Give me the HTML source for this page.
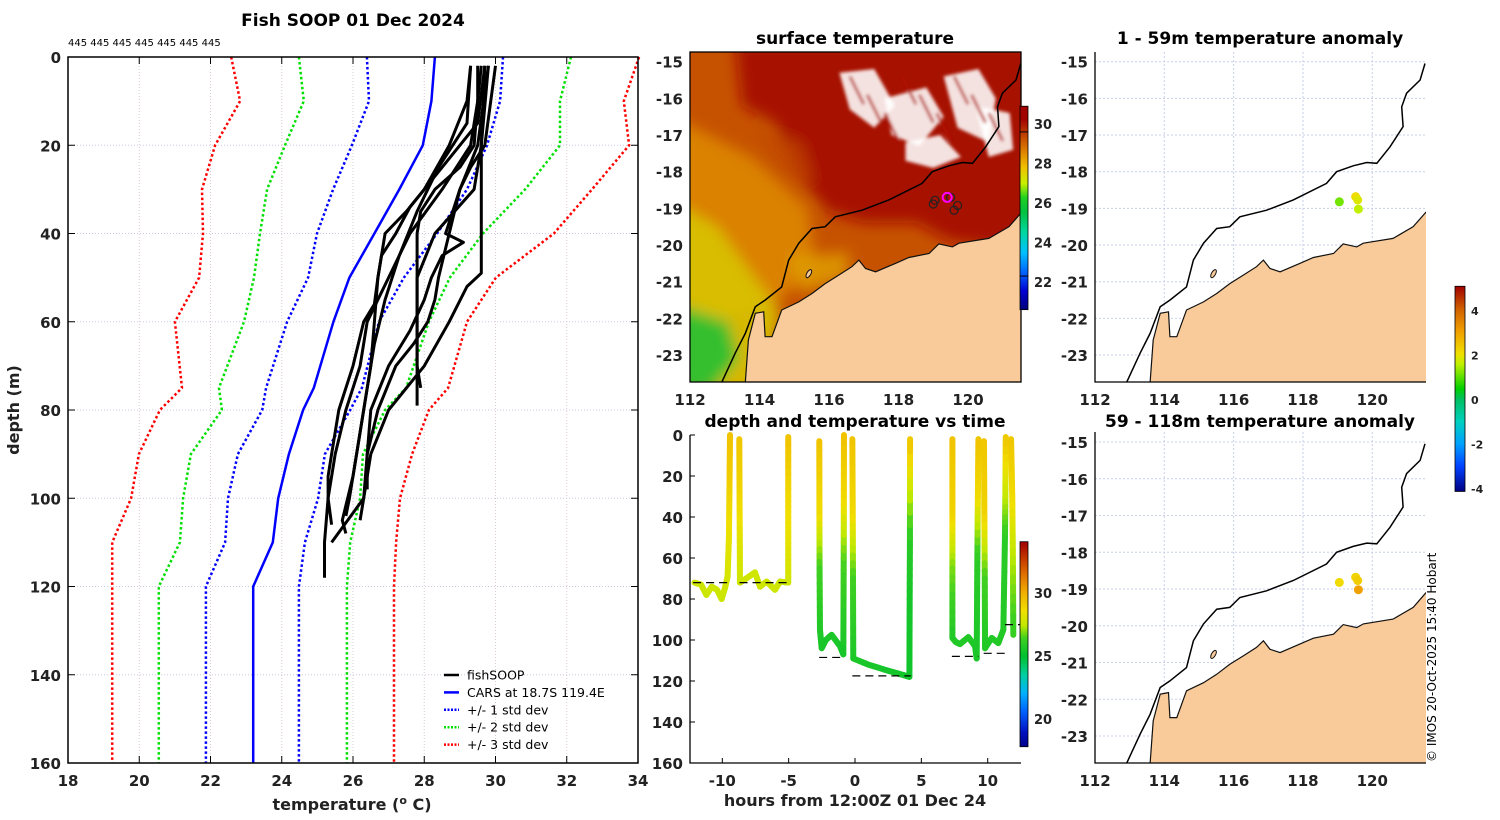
<!DOCTYPE html>
<html><head><meta charset="utf-8"><style>
html,body{margin:0;padding:0;background:#fff;}
svg{display:block;font-family:"DejaVu Sans","Liberation Sans",sans-serif;}
</style></head><body>
<svg id="fig" width="1500" height="820" viewBox="0 0 1500 820">
<defs>
<clipPath id="clipA"><rect x="690" y="52" width="331" height="330"/></clipPath>
<clipPath id="clipB"><rect x="1095" y="52" width="331" height="330"/></clipPath>
<clipPath id="clipC"><rect x="1095" y="432" width="331" height="331"/></clipPath>
<filter id="blur8" x="-20%" y="-20%" width="140%" height="140%"><feGaussianBlur stdDeviation="7"/></filter>
<filter id="blur3"><feGaussianBlur stdDeviation="1.5"/></filter>
<linearGradient id="sstcb" x1="0" y1="1" x2="0" y2="0">
<stop offset="0" stop-color="#00007a"/><stop offset="0.09" stop-color="#0000d0"/><stop offset="0.18" stop-color="#0060ff"/><stop offset="0.28" stop-color="#00c0ff"/><stop offset="0.38" stop-color="#00d8a0"/><stop offset="0.48" stop-color="#00c040"/><stop offset="0.55" stop-color="#20d020"/><stop offset="0.62" stop-color="#c8f000"/><stop offset="0.7" stop-color="#f0c000"/><stop offset="0.77" stop-color="#e08800"/><stop offset="0.86" stop-color="#c04000"/><stop offset="0.94" stop-color="#a00000"/><stop offset="1" stop-color="#a00000"/>
</linearGradient>
<linearGradient id="dtcb" x1="0" y1="1" x2="0" y2="0">
<stop offset="0" stop-color="#00008a"/><stop offset="0.07" stop-color="#0010c0"/><stop offset="0.17" stop-color="#0060ff"/><stop offset="0.26" stop-color="#00b0ff"/><stop offset="0.35" stop-color="#00d0a0"/><stop offset="0.44" stop-color="#00c030"/><stop offset="0.53" stop-color="#40d020"/><stop offset="0.59" stop-color="#c0e800"/><stop offset="0.66" stop-color="#f0e000"/><stop offset="0.75" stop-color="#f0b000"/><stop offset="0.84" stop-color="#e07000"/><stop offset="0.93" stop-color="#c03000"/><stop offset="1" stop-color="#a00000"/>
</linearGradient>
<linearGradient id="anomcb" x1="0" y1="1" x2="0" y2="0">
<stop offset="0" stop-color="#000080"/><stop offset="0.12" stop-color="#0040ff"/><stop offset="0.23" stop-color="#00a0ff"/><stop offset="0.34" stop-color="#00d0c0"/><stop offset="0.45" stop-color="#00c060"/><stop offset="0.5" stop-color="#00d000"/><stop offset="0.62" stop-color="#c0f000"/><stop offset="0.67" stop-color="#f0e000"/><stop offset="0.78" stop-color="#f0a000"/><stop offset="0.89" stop-color="#d06000"/><stop offset="1" stop-color="#a00000"/>
</linearGradient>
</defs>
</svg>
<script>
// ---------- data: left profile panel ----------
const carsDepths = [0,10,20,30,40,50,60,75,80,90,100,110,120,160];
const carsMean  = [28.3,28.2,27.96,27.3,26.6,25.9,25.45,24.9,24.6,24.2,23.9,23.75,23.2,23.2];
const minus1Std = [26.39,26.45,25.97,25.44,24.99,24.74,24.15,23.56,23.45,22.77,22.49,22.41,21.87,21.87];
const plus1Std  = [30.21,30.13,29.76,29.2,28.36,27.43,26.73,26.25,25.92,25.21,25.02,24.65,24.48,24.48];
const minus2Std = [24.48,24.62,24.09,23.59,23.39,23.22,22.94,22.24,22.32,21.45,21.23,21.14,20.55,20.55];
const plus2Std  = [32.12,31.81,31.81,30.83,29.65,28.72,28.13,27.49,26.9,26.28,26.2,25.92,25.83,25.83];
const minus3Std = [22.58,22.83,22.13,21.76,21.79,21.68,21.0,21.2,20.58,19.99,19.77,19.24,19.24,19.24];
const plus3Std  = [34.03,33.6,33.75,32.71,31.64,30.01,29.2,28.67,28.13,27.66,27.32,27.21,27.15,27.15];
const minus3Depths = [0,10,20,30,40,50,60,75,80,90,100,110,120,160];
const fishDepths = [
 [2,10,20,30,40,50,60,70,80,90,100,110,118],
 [2,15,25,35,45,55,65,75,85,95,105,108],
 [2,10,20,25,30,35,40,50,60,70,79],
 [2,20,30,40,50,60,70,75],
 [2,20,40,49,52,60,70,80,90,100,105],
 [2,20,30,40,42,45,50,55,62,70,80,90,100,110],
 [2,10,20,30,35,40,50,56,60,70,80,90,95,100,106],
 [2,15,22,28,34,40,45,50,60,70,80,90,100,104],
 [2,20,25,30,40,50,55,60,65,70,80,90,98]
];
const fishTemps = [
 [29.6,29.5,29.3,28.5,27.6,27.0,26.4,26.2,25.8,25.5,25.3,25.2,25.2],
 [29.3,29.2,28.4,27.8,27.3,26.9,26.6,26.4,26.2,26.0,25.7,25.8],
 [29.5,29.5,29.4,29.0,28.3,27.9,27.8,27.8,27.8,27.8,27.8],
 [29.8,29.6,29.4,28.3,27.8,27.8,27.8,27.9],
 [29.7,29.6,29.6,29.6,29.2,28.7,28.0,27.0,26.5,26.3,26.2],
 [29.8,29.5,29.0,28.6,29.1,28.5,28.2,28.0,27.6,27.0,26.5,26.4,26.3,25.4],
 [29.3,29.2,28.7,28.0,27.5,26.9,26.7,26.6,26.3,26.0,25.6,25.4,25.3,25.3,25.4],
 [29.7,29.5,28.8,28.2,27.6,27.2,26.8,26.7,26.6,26.5,26.3,26.1,25.9,25.8],
 [30.0,29.7,29.3,29.0,28.7,28.4,28.3,28.1,27.7,27.2,26.7,26.4,26.4]
];
const tempTicks = [18,20,22,24,26,28,30,32,34];
const depthTicks = [0,20,40,60,80,100,120,140,160];

// ---------- data: depth vs time ----------
const castHours = [
 [-12.1,-11.6,-11.2,-10.8,-10.4,-10.05,-9.8,-9.6,-9.5,-9.45,-9.42],
 [-8.72,-8.7,-8.68,-8.67,-8.2,-7.54,-7.16,-6.66,-6.03,-5.65,-5.03,-5.03,-5.03,-5.03],
 [-2.69,-2.68,-2.67,-2.64,-2.51,-2.2,-1.76,-1.13,-0.88,-0.85,-0.84,-0.83],
 [-0.2,-0.17,-0.15,-0.13,1,2.5,3.6,4.1,4.12,4.14,4.15],
 [7.34,7.34,7.34,7.34,7.6,7.91,8.54,9.05,9.17,9.22,9.26,9.3],
 [9.72,9.75,9.78,9.8,10.3,10.8,11.18,11.3,11.33,11.36],
 [11.76,11.85,11.9,11.93]
];
const castDepths = [
 [72,73,78,74,75.5,80,74.7,69,50,20,0],
 [2,30,55,72,70,67,74,71.5,75.5,71.5,72,50,30,1],
 [3,40,65,95,104,100,97.5,103,107,60,30,0],
 [2,40,70,109,112,115,117,118,80,50,2],
 [2,40,65,99,101,102,98.6,103,109,60,30,2],
 [3,40,70,104,99,101.5,95,50,30,1],
 [2,30,60,97.5]
];
const castTemps = [
 [27.8,27.8,27.7,27.8,27.8,27.7,27.8,27.9,28.3,29.1,29.4],
 [29.3,28.8,28.1,27.8,27.8,27.8,27.8,27.8,27.8,27.8,27.8,28.3,28.7,29.4],
 [29.4,28.6,26.5,25.8,25.6,25.6,25.7,25.6,25.5,26.6,28.7,29.4],
 [29.4,28.7,26.5,25.7,25.6,25.5,25.5,25.4,25.5,26.0,29.4],
 [29.4,28.9,27.0,25.8,25.8,25.8,25.8,25.7,25.6,26.0,28.6,29.4],
 [29.3,28.9,26.5,25.8,25.8,25.8,25.8,26.0,27.5,29.3],
 [29.3,28.7,27.5,26.2]
];
const bottomStart = [-12.2,-8.7,-2.7,-0.2,7.3,9.7,11.3];
const bottomEnd   = [-9.5,-5.0,-0.8,4.2,9.3,11.4,12.6];
const bottomDepth = [72,72,108.5,117.5,108,106.5,92.5];
const hourTicks = [-10,-5,0,5,10];

// ---------- data: maps ----------
const coastLon = [113.59,113.68,113.88,114.12,114.16,114.36,114.64,115.13,115.51,115.89,116.28,116.66,116.86,117.05,117.34,117.91,118.3,118.88,119.16,119.55,119.74,120.6,121.18,121.54];
const coastLat = [-23.75,-22.59,-21.86,-21.82,-22.5,-22.5,-21.77,-21.55,-21.32,-21.05,-20.82,-20.59,-20.41,-20.64,-20.73,-20.5,-20.34,-20.23,-19.97,-20.05,-19.95,-19.82,-19.5,-19.11];
const shelfLon = [112.91,113.3,113.59,113.88,114.16,114.64,114.84,115.13,115.51,115.89,116.18,116.95,117.72,118.68,118.97,119.45,119.84,120.13,120.51,120.89,120.85,120.99,121.38,121.52];
const shelfLat = [-23.75,-22.95,-22.41,-21.68,-21.5,-21.14,-20.41,-19.95,-19.55,-19.5,-19.23,-19.05,-18.77,-18.32,-18.0,-17.84,-17.75,-17.77,-17.32,-16.77,-16.23,-15.86,-15.5,-15.05];
const profLon = [119.05,119.5,119.6,119.7,119.0];
const profLat = [-18.78,-18.7,-19.05,-18.92,-18.88];
const anomLon = [119.05,119.52,119.58,119.6];
const anomLat = [-18.82,-18.68,-18.77,-19.02];
const anomShallow = [1.1,2.1,1.8,1.5];
const anomDeep = [2.1,2.2,2.3,3.0];
const lonTicks = [112,114,116,118,120];
const latTicks = [-15,-16,-17,-18,-19,-20,-21,-22,-23];
const sstTicks = [22,24,26,28,30];
const dtTicks = [20,25,30];
const anomTicks = [-4,-2,0,2,4];

// ---------- helpers ----------
const NS='http://www.w3.org/2000/svg';
const svg=document.getElementById('fig');
function mk(tag,attrs,parent){const e=document.createElementNS(NS,tag);for(const k in attrs)e.setAttribute(k,attrs[k]);(parent||svg).appendChild(e);return e;}
function txt(x,y,s,attrs,parent){const t=mk('text',Object.assign({x:x,y:y},attrs),parent);t.textContent=s;return t;}
const B={'font-weight':'bold','font-size':15,fill:'#222'};

// ---------- left panel ----------
const LX0=68,LX1=638,LY0=57,LY1=763;
const tx=t=>LX0+(t-18)/16*(LX1-LX0);
const dy=d=>LY0+d/160*(LY1-LY0);
const gL=mk('g',{});


tempTicks.forEach(t=>{
  const l=mk('line',{x1:tx(t),x2:tx(t),y1:LY0,y2:LY1,stroke:'#d8c8d8','stroke-dasharray':'1,2','stroke-width':1},gL);
  
  
  const tk=mk('line',{x1:tx(t),x2:tx(t),y1:LY1,y2:LY1-7,stroke:'#000'},gL);
  
  
  const tk2=mk('line',{x1:tx(t),x2:tx(t),y1:LY0,y2:LY0+7,stroke:'#000'},gL);
  
  
  const lb=txt(tx(t),786,String(t),Object.assign({'text-anchor':'middle'},B),gL);
  
  
});
depthTicks.forEach(d=>{
  const l=mk('line',{x1:LX0,x2:LX1,y1:dy(d),y2:dy(d),stroke:'#d0c8e0','stroke-dasharray':'1,2','stroke-width':1},gL);
  
  
  const tk=mk('line',{x1:LX0,x2:LX0+7,y1:dy(d),y2:dy(d),stroke:'#000'},gL);
  
  
  const tk2=mk('line',{x1:LX1,x2:LX1-7,y1:dy(d),y2:dy(d),stroke:'#000'},gL);
  
  
  const lb=txt(61,dy(d)+6,String(d),Object.assign({'text-anchor':'end'},B),gL);
  
  
});
function pline(temps,depths,color,dash,w,name){
  const pts=temps.map((t,i)=>tx(t).toFixed(1)+','+dy(depths[i]).toFixed(1)).join(' ');
  const a={points:pts,fill:'none',stroke:color,'stroke-width':w,'stroke-linejoin':'round'};
  if(dash)a['stroke-dasharray']=dash;
  const p=mk('polyline',a,gL);
  
  
}
pline(minus3Std,minus3Depths,'#ff0000','2.5,2.5',2.5,'minus-3-std-line');
pline(plus3Std,carsDepths,'#ff0000','2.5,2.5',2.5,'plus-3-std-line');
pline(minus2Std,carsDepths,'#00e000','2.5,2.5',2.5,'minus-2-std-line');
pline(plus2Std,carsDepths,'#00e000','2.5,2.5',2.5,'plus-2-std-line');
pline(minus1Std,carsDepths,'#0000ff','2.5,2.5',2.5,'minus-1-std-line');
pline(plus1Std,carsDepths,'#0000ff','2.5,2.5',2.5,'plus-1-std-line');
pline(carsMean,carsDepths,'#0000ff',null,2.5,'cars-mean-line');
fishTemps.forEach((t,i)=>pline(t,fishDepths[i],'#000',null,3,'fishsoop-profile'));
const box=mk('rect',{x:LX0,y:LY0,width:LX1-LX0,height:LY1-LY0,fill:'none',stroke:'#000','stroke-width':1.5},gL);


let t1=txt(353,26,'Fish SOOP 01 Dec 2024',{'text-anchor':'middle','font-weight':'bold','font-size':17,fill:'#000'});


let t2=txt(68,46,'445 445 445 445 445 445 445',{'font-size':10,fill:'#000'});


let t3=txt(352,810,'',{'text-anchor':'middle','font-weight':'bold','font-size':16,fill:'#222'});
const ts1=mk('tspan',{},t3);ts1.textContent='temperature (';
const ts2=mk('tspan',{dy:-6,'font-size':11},t3);ts2.textContent='o';
const ts3=mk('tspan',{dy:6},t3);ts3.textContent=' C)';


let t4=txt(0,0,'depth (m)',{'text-anchor':'middle','font-weight':'bold','font-size':16,fill:'#222',transform:'translate(19,410) rotate(-90)'});


// legend
const legNames=['fishSOOP','CARS at 18.7S 119.4E','+/- 1 std dev','+/- 2 std dev','+/- 3 std dev'];
const legColors=['#000','#0000ff','#0000ff','#00e000','#ff0000'];
const legDash=[null,null,'2,1.5','2,1.5','2,1.5'];
legNames.forEach((n,i)=>{
  const y=675+i*17.4;
  const a={x1:444,x2:459,y1:y,y2:y,stroke:legColors[i],'stroke-width':2.5};
  if(legDash[i])a['stroke-dasharray']=legDash[i];
  const l=mk('line',a);
  
  
  const t=txt(467,y+4.5,n,{'font-size':12.5,fill:'#000'});
  
  
});

// ---------- maps ----------
function makeMap(o){
  o.lx=lon=>o.left+(lon-112)*o.sx;
  o.ly=lat=>o.lat15+(-15-lat)*o.sy;
  return o;
}
const mapA=makeMap({left:690,right:1021,top:52,bottom:382,sx:34.75,sy:36.67,lat15:61.7,clip:'clipA'});
const mapB=makeMap({left:1095,right:1426,top:52,bottom:382,sx:34.66,sy:36.67,lat15:61.7,clip:'clipB'});
const mapC=makeMap({left:1095,right:1426,top:432,bottom:763,sx:34.66,sy:36.75,lat15:442,clip:'clipC'});
function poly(m,lons,lats){return lons.map((l,i)=>m.lx(l).toFixed(1)+','+m.ly(lats[i]).toFixed(1)).join(' ');}
function drawMapFrame(m,name){
  const g=mk('g',{});
  
  
  lonTicks.forEach(l=>{
    const gl=mk('line',{x1:m.lx(l),x2:m.lx(l),y1:m.top,y2:m.bottom,stroke:'#c8d0ea','stroke-dasharray':'2,2'},g);
    
    
    const lb=txt(m.lx(l),m.bottom+23,String(l),Object.assign({'text-anchor':'middle'},B),g);
    
    
  });
  latTicks.forEach(l=>{
    const gl=mk('line',{x1:m.left,x2:m.right,y1:m.ly(l),y2:m.ly(l),stroke:'#c8d0ea','stroke-dasharray':'2,2'},g);
    
    
    const lb=txt(m.left-7,m.ly(l)+6,String(l),Object.assign({'text-anchor':'end'},B),g);
    
    
  });
  return g;
}
function drawLand(m,g){
  const lons=coastLon.concat([121.7,121.7,113.5]);
  const lats=coastLat.concat([-19.0,-24,-24]);
  const land=mk('polygon',{points:poly(m,lons,lats),fill:'#f9cb9a',stroke:'#111','stroke-width':1.2},g);
  
  
  const isl=mk('ellipse',{cx:m.lx(115.42),cy:m.ly(-20.78),rx:2,ry:4.5,fill:'#f9cb9a',stroke:'#111','stroke-width':1,transform:'rotate(30 '+m.lx(115.42)+' '+m.ly(-20.78)+')'},g);
  
  
  const sh=mk('polyline',{points:poly(m,shelfLon,shelfLat),fill:'none',stroke:'#000','stroke-width':1.5},g);
  
  
}
function axesLines(m,g,full){
  if(full){
    const r=mk('rect',{x:m.left,y:m.top,width:m.right-m.left,height:m.bottom-m.top,fill:'none',stroke:'#000','stroke-width':1.3},g);
    
    
  } else {
    const a=mk('polyline',{points:m.left+','+m.top+' '+m.left+','+m.bottom+' '+m.right+','+m.bottom,fill:'none',stroke:'#000','stroke-width':1.3},g);
    
    
  }
}

// map A: SST
const gA=drawMapFrame(mapA,'sst-map');
const field=mk('g',{'clip-path':'url(#clipA)'},gA);


const bg=mk('rect',{x:690,y:52,width:331,height:330,fill:'#c65200'},field);


const blurG=mk('g',{filter:'url(#blur8)'},field);


function patch(lons,lats,color,op,name){
  const p=mk('polygon',{points:poly(mapA,lons,lats),fill:color,opacity:op},blurG);
  
  
}
patch([113.3,122,122,119.5,118.5,117,116,115,114.5,113.5],[-14.5,-14.5,-20.2,-19.9,-19.4,-19.4,-19.1,-18,-16.7,-16.2],'#a51000',0.95,'warm-pool');
patch([113.8,115.2,115.6,114.6],[-16.8,-17.2,-18.3,-18.0],'#c24a00',0.7,'orange-eddy');
patch([111.5,113.8,115.4,115.6,114.6,113,111.5],[-16.5,-17.6,-19,-20.5,-21.5,-22,-22],'#de8a00',0.85,'orange-band');
patch([111.5,112.8,113.8,114.6,114.2,113.6,111.5],[-18.8,-19.5,-20.8,-21.8,-23.8,-24,-24],'#d8c400',0.9,'yellow-band');
patch([114.8,116.6,116.5,115.2],[-20.3,-20.2,-20.9,-21.3],'#e0a000',0.8,'coastal-warm');
patch([111.5,113.1,113.4,112.6,111.5],[-21.6,-22.1,-23.1,-24,-24],'#2cc030',0.95,'green-cool');
const cloudG=mk('g',{filter:'url(#blur3)'},field);


const cloudLons=[[116.3,117.3,117.9,117.3,116.6],[117.6,118.8,119.3,118.6,117.8],[119.3,120.3,120.8,120.6,119.7],[118.2,119.2,119.8,119.0,118.2],[120.2,121.2,121.3,120.6]];
const cloudLats=[[-15.3,-15.2,-16.2,-16.8,-16.3],[-16.0,-15.7,-16.5,-17.3,-17.0],[-15.4,-15.2,-16.0,-17.2,-16.8],[-17.2,-17.0,-17.6,-17.9,-17.7],[-16.2,-16.4,-17.4,-17.6]];
cloudLons.forEach((cl,i)=>{
  const c=mk('polygon',{points:poly(mapA,cl,cloudLats[i]),fill:'#ffffff',opacity:0.88},cloudG);
  
  
});
for(let i=0;i<9;i++){
  const x=mapA.lx(116.6+i*0.5),y=mapA.ly(-15.4-(i%3)*0.5);
  const s=mk('line',{x1:x,y1:y,x2:x+14,y2:y+28,stroke:'#b01000','stroke-width':3,opacity:0.8},cloudG);
  
  
}
drawLand(mapA,mk('g',{'clip-path':'url(#clipA)'},gA));
profLon.forEach((l,i)=>{
  const c=mk('circle',{cx:mapA.lx(l),cy:mapA.ly(profLat[i]),r:4,fill:'none',stroke:'#222','stroke-width':1.2},gA);
  
  
});
const mag=mk('circle',{cx:mapA.lx(119.4),cy:mapA.ly(-18.7),r:4.5,fill:'none',stroke:'#ff00ff','stroke-width':2},gA);


axesLines(mapA,gA,true);
let tA=txt(855,44,'surface temperature',{'text-anchor':'middle','font-weight':'bold','font-size':17,fill:'#000'});


// SST colorbar
const sy=v=>124+(30-v)/2*39.5;
let cb=mk('rect',{x:1020,y:sy(30.9),width:8,height:sy(20.6)-sy(30.9),fill:'url(#sstcb)',stroke:'#000','stroke-width':0.8});


sstTicks.forEach(v=>{
  const lb=txt(1034,sy(v)+5,String(v),{'font-weight':'bold','font-size':13,fill:'#222'});
  
  
});
[29.6,22.3].forEach(v=>{
  const l=mk('line',{x1:1020,x2:1028,y1:sy(v),y2:sy(v),stroke:'#000'});
  
  
});

// maps B & C: anomalies
function interpColor(s,v){
  if(v<=s[0][0])return 'rgb('+s[0][1]+')';
  for(let i=1;i<s.length;i++){if(v<=s[i][0]){const f=(v-s[i-1][0])/(s[i][0]-s[i-1][0]);const c=s[i-1][1].map((a,k)=>Math.round(a+(s[i][1][k]-a)*f));return 'rgb('+c.join(',')+')';}}
  return 'rgb('+s[s.length-1][1]+')';
}
function anomColor(v){
  const s=[[-4.1,[0,0,128]],[-3,[0,64,255]],[-2,[0,160,255]],[-1,[0,208,192]],[0,[0,192,96]],[0.5,[0,208,0]],[1.5,[192,240,0]],[2,[240,224,0]],[3,[240,160,0]],[4,[208,96,0]],[5.1,[160,0,0]]];
  return interpColor(s,v);
}
[[mapB,anomShallow,'shallow-anomaly-map','1 - 59m temperature anomaly',44],[mapC,anomDeep,'deep-anomaly-map','59 - 118m temperature anomaly',427]].forEach(([m,vals,name,title,ty])=>{
  const g=drawMapFrame(m,name);
  drawLand(m,mk('g',{'clip-path':'url(#'+m.clip+')'},g));
  anomLon.forEach((l,i)=>{
    const c=mk('circle',{cx:m.lx(l),cy:m.ly(anomLat[i]),r:4.5,fill:anomColor(vals[i])},g);
    
    
  });
  axesLines(m,g,false);
  const t=txt(1260,ty,title,{'text-anchor':'middle','font-weight':'bold','font-size':17,fill:'#000'});
  
  
});
const ay=v=>400-v*22.3;
let acb=mk('rect',{x:1455,y:ay(5.1),width:10,height:ay(-4.1)-ay(5.1),fill:'url(#anomcb)',stroke:'#000','stroke-width':0.8});


anomTicks.forEach(v=>{
  const lb=txt(1471,ay(v)+4,String(v),{'font-weight':'bold','font-size':11,fill:'#222'});
  
  
});

// ---------- depth vs time ----------
const TX0=690,TX1=1021,TY0=435,TY1=763;
const hx=h=>855+h*13.27;
const hy=d=>TY0+d/160*(TY1-TY0);
const gT=mk('g',{});


const dtStops=[[17.8,[0,0,138]],[19,[0,16,192]],[20.5,[0,96,255]],[22,[0,176,255]],[23.5,[0,208,160]],[25,[0,192,48]],[26.5,[64,208,32]],[27.5,[192,232,0]],[28.5,[240,224,0]],[30,[240,176,0]],[31.5,[224,112,0]],[33,[192,48,0]],[34,[160,0,0]]];
castHours.forEach((hs,ci)=>{
  const ds=castDepths[ci],ts=castTemps[ci];
  for(let i=1;i<hs.length;i++){
    const n=8;
    for(let k=0;k<n;k++){
      const f0=k/n,f1=(k+1)/n,fm=(k+0.5)/n;
      const seg=mk('line',{x1:hx(hs[i-1]+(hs[i]-hs[i-1])*f0),y1:hy(ds[i-1]+(ds[i]-ds[i-1])*f0),x2:hx(hs[i-1]+(hs[i]-hs[i-1])*f1),y2:hy(ds[i-1]+(ds[i]-ds[i-1])*f1),stroke:interpColor(dtStops,ts[i-1]+(ts[i]-ts[i-1])*fm),'stroke-width':6,'stroke-linecap':'round'},gT);
      
      
    }
  }
});
bottomStart.forEach((s,i)=>{
  const l=mk('line',{x1:hx(s),x2:Math.min(hx(bottomEnd[i]),TX1),y1:hy(bottomDepth[i]),y2:hy(bottomDepth[i]),stroke:'#000','stroke-width':1.2,'stroke-dasharray':'8,5'},gT);
  
  
});
const ax=mk('polyline',{points:TX0+','+TY0+' '+TX0+','+TY1+' '+TX1+','+TY1,fill:'none',stroke:'#000','stroke-width':1.3},gT);


hourTicks.forEach(h=>{
  const tk=mk('line',{x1:hx(h),x2:hx(h),y1:TY1,y2:TY1-5,stroke:'#000'},gT);
  
  
  const lb=txt(hx(h),786,String(h),Object.assign({'text-anchor':'middle'},B),gT);
  
  
});
depthTicks.forEach(d=>{
  const tk=mk('line',{x1:TX0,x2:TX0+5,y1:hy(d),y2:hy(d),stroke:'#000'},gT);
  
  
  const lb=txt(683,hy(d)+6,String(d),Object.assign({'text-anchor':'end'},B),gT);
  
  
});
let tT=txt(855,427,'depth and temperature vs time',{'text-anchor':'middle','font-weight':'bold','font-size':17,fill:'#000'});


let tX=txt(855,806,'hours from 12:00Z 01 Dec 24',{'text-anchor':'middle','font-weight':'bold','font-size':16,fill:'#222'});


const cy2=v=>593+(30-v)*12.6;
let dcb=mk('rect',{x:1020,y:cy2(34.07),width:8,height:cy2(17.8)-cy2(34.07),fill:'url(#dtcb)',stroke:'#000','stroke-width':0.8});


dtTicks.forEach(v=>{
  const lb=txt(1034,cy2(v)+5,String(v),{'font-weight':'bold','font-size':13,fill:'#222'});
  
  
});
let cp=txt(0,0,'© IMOS 20-Oct-2025 15:40 Hobart',{'font-size':12,fill:'#000',transform:'translate(1436,762) rotate(-90)'});


</script>
</body></html>
